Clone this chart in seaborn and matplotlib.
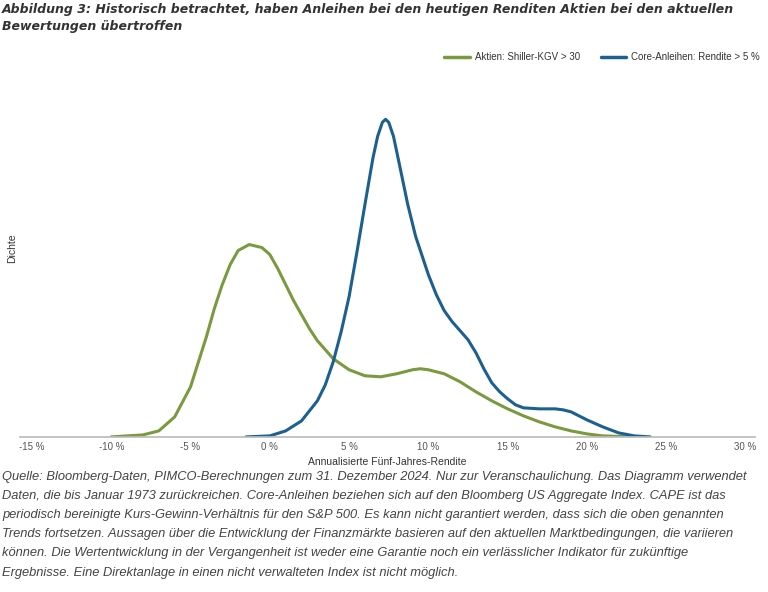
import matplotlib
matplotlib.use("Agg")
import matplotlib.pyplot as plt
import seaborn as sns
import pandas as pd

# density in arbitrary units
aktien_x = [-10, -9, -8, -7, -6, -5, -4, -3.5, -3, -2.5, -2, -1.3, -0.5, 0, 0.5, 1, 1.5, 2, 2.5, 3, 4, 5, 6, 7, 8, 9,
            9.5, 10, 11, 12, 13, 14, 15, 16, 17, 18, 19, 20, 21, 22, 23]
aktien_y = [0, 1, 2, 6, 20, 50, 100, 128, 152, 172, 186, 192, 189, 182, 168, 152, 136, 122, 108, 96, 78, 67, 61, 60, 63, 67,
            68, 67, 63, 55, 45, 36, 28, 21, 15, 10, 6, 3, 1, 0.5, 0]
anleihen_x = [-1.5, 0, 1, 2, 3, 3.5, 4, 4.5, 5, 5.5, 6, 6.5, 6.8, 7.1, 7.3, 7.5, 7.8, 8.2, 8.7, 9.2, 10, 10.5, 11, 11.5,
              12, 12.5, 13, 13.5, 14, 14.5, 15, 15.5, 16, 17, 18, 18.5, 19, 19.5, 20, 21, 22, 23, 24]
anleihen_y = [0, 1, 6, 16, 36, 52, 75, 105, 140, 185, 232, 278, 300, 314, 317, 314, 300, 270, 232, 200, 162, 142, 126, 115,
              106, 97, 84, 68, 54, 45, 38, 32, 29, 28, 28, 27, 25, 21, 17, 10, 4, 1, 0]
xticks = [-15, -10, -5, 0, 5, 10, 15, 20, 25, 30]

df = pd.concat([
    pd.DataFrame({"x": aktien_x, "y": aktien_y, "s": "Aktien: Shiller-KGV > 30"}),
    pd.DataFrame({"x": anleihen_x, "y": anleihen_y, "s": "Core-Anleihen: Rendite > 5 %"}),
])

sns.set_theme(style="white")
plt.rcParams["font.family"] = ["Liberation Sans", "DejaVu Sans"]
fig = plt.figure(figsize=(7.68, 5.92), dpi=100)
ax = fig.add_axes([0.026, 0.262, 0.957, 0.638])
sns.lineplot(data=df, x="x", y="y", hue="s", ax=ax, linewidth=2.2,
             palette=["#7b9a3f", "#1c6090"], legend=False)
ax.set_xlim(-15.76, 30.6)
ax.set_ylim(0, 377)
ax.set_xticks(xticks)
ax.set_xticklabels([f"{t} %" for t in xticks], fontsize=7, color="#555555")
ax.set_yticks([])
for s in ["top", "right", "left"]:
    ax.spines[s].set_visible(False)
ax.spines["bottom"].set_color("#bbbbbb")
ax.tick_params(axis="x", length=0, pad=4)
ax.set_xlabel("Annualisierte Fünf-Jahres-Rendite", fontsize=7.5, color="#333333", labelpad=3)
ax.set_ylabel("Dichte", fontsize=7.5, color="#333333", labelpad=2)

# legend
fig.lines.append(plt.Line2D([0.578, 0.612], [0.904, 0.904], color="#7b9a3f", lw=2.5, transform=fig.transFigure))
fig.text(0.618, 0.904, "Aktien: Shiller-KGV > 30", fontsize=7, va="center", color="#333333")
fig.lines.append(plt.Line2D([0.783, 0.815], [0.904, 0.904], color="#1c6090", lw=2.5, transform=fig.transFigure))
fig.text(0.821, 0.904, "Core-Anleihen: Rendite > 5 %", fontsize=7, va="center", color="#333333")

fig.text(0.003, 0.995, "Abbildung 3: Historisch betrachtet, haben Anleihen bei den heutigen Renditen Aktien bei den aktuellen\nBewertungen übertroffen",
         fontsize=9.0, fontweight="bold", fontstyle="italic", va="top", color="#333333", linespacing=1.45,
         family="DejaVu Sans")
caption = ("Quelle: Bloomberg-Daten, PIMCO-Berechnungen zum 31. Dezember 2024. Nur zur Veranschaulichung. Das Diagramm verwendet\n"
           "Daten, die bis Januar 1973 zurückreichen. Core-Anleihen beziehen sich auf den Bloomberg US Aggregate Index. CAPE ist das\n"
           "periodisch bereinigte Kurs-Gewinn-Verhältnis für den S&P 500. Es kann nicht garantiert werden, dass sich die oben genannten\n"
           "Trends fortsetzen. Aussagen über die Entwicklung der Finanzmärkte basieren auf den aktuellen Marktbedingungen, die variieren\n"
           "können. Die Wertentwicklung in der Vergangenheit ist weder eine Garantie noch ein verlässlicher Indikator für zukünftige\n"
           "Ergebnisse. Eine Direktanlage in einen nicht verwalteten Index ist nicht möglich.")
fig.text(0.003, 0.205, caption, fontsize=9.3, fontstyle="italic", va="top", color="#444444", linespacing=1.8)
fig.savefig("out.png", dpi=100)
